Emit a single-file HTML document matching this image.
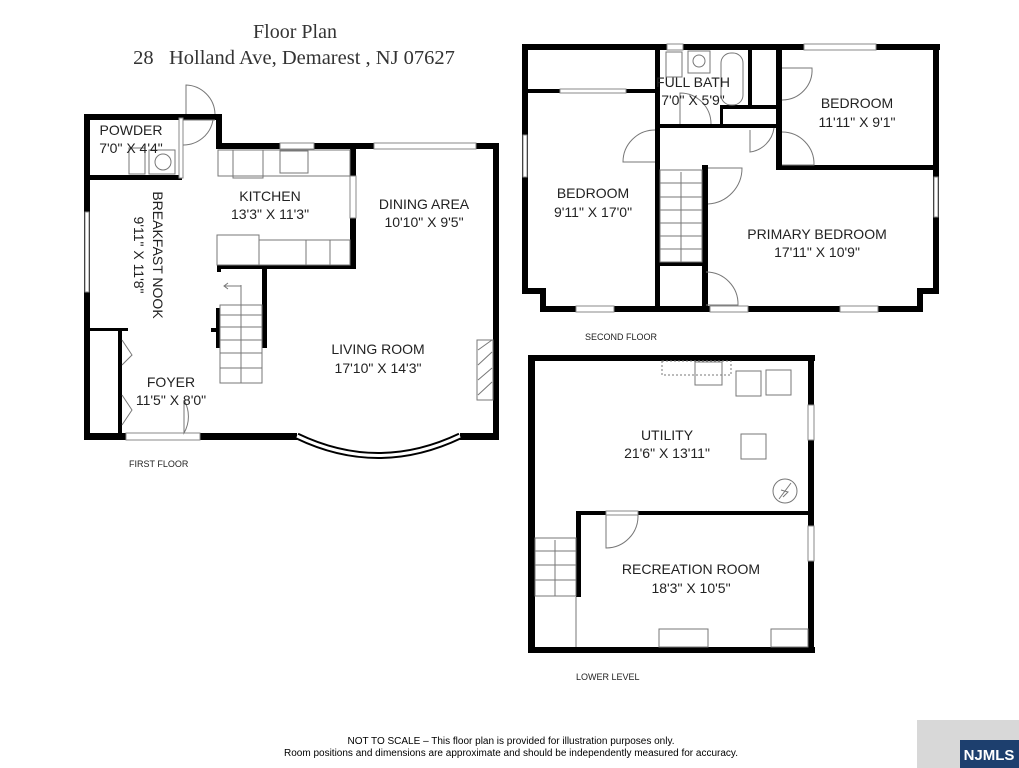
<!DOCTYPE html>
<html><head><meta charset="utf-8"><style>
body{margin:0;background:#fff;width:1019px;height:768px;overflow:hidden}
svg{display:block}
.t{font-family:"Liberation Sans",sans-serif;font-size:14px;fill:#222;text-anchor:middle}
.s{font-family:"Liberation Sans",sans-serif;font-size:9px;fill:#222}
.w{fill:#fff;stroke:#888;stroke-width:1}
.l{fill:none;stroke:#777;stroke-width:1}
</style></head><body>
<svg width="1019" height="768" viewBox="0 0 1019 768">
<text x="295" y="38" style="font-family:'Liberation Serif',serif;font-size:20px;fill:#333" text-anchor="middle">Floor Plan</text>
<text x="294" y="64" style="font-family:'Liberation Serif',serif;font-size:20.5px;fill:#333;white-space:pre" text-anchor="middle" xml:space="preserve">28   Holland Ave, Demarest , NJ 07627</text>

<!-- FIRST FLOOR -->
<g fill="#000">
<rect x="84" y="114" width="6" height="326"/>
<rect x="84" y="114" width="138" height="6"/>
<rect x="216" y="114" width="6" height="35"/>
<rect x="216" y="143" width="283" height="6"/>
<rect x="493" y="143" width="6" height="297"/>
<rect x="84" y="433" width="213" height="7"/>
<rect x="460" y="433" width="39" height="7"/>
<rect x="84" y="175" width="98" height="5"/>
<rect x="350" y="143" width="6" height="33"/>
<rect x="350" y="218" width="6" height="51"/>
<rect x="217" y="265" width="139" height="4"/>
<rect x="217" y="268" width="4" height="4"/>
<rect x="262" y="268" width="5" height="80"/>
<rect x="216" y="308" width="4" height="40"/>
<rect x="84" y="328" width="44" height="3"/>
<rect x="211" y="328" width="8" height="4"/>
<rect x="118" y="330" width="4" height="110"/>
</g>
<rect x="179" y="118" width="4" height="60" fill="#fff" stroke="#888"/>
<rect x="85" y="212" width="4" height="80" class="w"/>
<rect x="280" y="143" width="34" height="6" class="w"/>
<rect x="374" y="143" width="102" height="6" class="w"/>
<rect x="350" y="176" width="6" height="42" class="w"/>
<rect x="126" y="433" width="74" height="7" class="w"/>
<path d="M297 436 Q378 475 460 436" fill="none" stroke="#000" stroke-width="7"/>
<path d="M297 436 Q378 475 460 436" fill="none" stroke="#fff" stroke-width="3"/>
<path d="M186 114 V85 A30 30 0 0 1 215 114" class="l"/>
<path d="M183 120 H215 M183 145 A30 30 0 0 0 213 120" class="l"/>
<rect x="149" y="150" width="26" height="24" class="l"/><circle cx="163" cy="162" r="8" class="l"/>
<rect x="129" y="148" width="16" height="26" class="l"/>
<rect x="233" y="150" width="30" height="28" class="l"/>
<rect x="280" y="151" width="28" height="22" class="l"/>
<rect x="218" y="150" width="132" height="26" class="l"/>
<rect x="217" y="235" width="42" height="30" class="l"/>
<rect x="259" y="240" width="91" height="25" class="l"/>
<line x1="306" y1="240" x2="306" y2="265" class="l"/><line x1="330" y1="240" x2="330" y2="265" class="l"/>
<g class="l">
<rect x="220" y="305" width="42" height="78"/>
<line x1="220" y1="315" x2="262" y2="315"/><line x1="220" y1="327" x2="262" y2="327"/><line x1="220" y1="340" x2="262" y2="340"/><line x1="220" y1="353" x2="262" y2="353"/><line x1="220" y1="368" x2="262" y2="368"/>
<line x1="241" y1="285" x2="241" y2="383"/><path d="M241 286 H224 M228 283 L224 286 L228 289"/>
</g>
<rect x="477" y="340" width="16" height="60" class="l"/>
<path d="M478 350 L492 340 M478 365 L492 352 M478 380 L492 368 M478 395 L492 382" class="l"/>
<path d="M122 340 L132 355 L122 365 M122 395 L132 410 L122 425" class="l"/>
<path d="M184 400 A33 33 0 0 1 184 433 V400" class="l"/>
<text class="t" x="131" y="135">POWDER</text>
<text class="t" x="131" y="153">7'0" X 4'4"</text>
<text class="t" x="270" y="201">KITCHEN</text>
<text class="t" x="270" y="219">13'3" X 11'3"</text>
<text class="t" x="424" y="209">DINING AREA</text>
<text class="t" x="424" y="227">10'10" X 9'5"</text>
<text class="t" x="378" y="354">LIVING ROOM</text>
<text class="t" x="378" y="373">17'10" X 14'3"</text>
<text class="t" x="171" y="387">FOYER</text>
<text class="t" x="171" y="405">11'5" X 8'0"</text>
<text class="t" transform="translate(153,255) rotate(90)">BREAKFAST NOOK</text>
<text class="t" transform="translate(134,255) rotate(90)">9'11" X 11'8"</text>
<text class="s" x="129" y="467">FIRST FLOOR</text>

<!-- SECOND FLOOR -->
<g fill="#000">
<rect x="522" y="44" width="418" height="6"/>
<rect x="522" y="44" width="6" height="250"/>
<rect x="522" y="288" width="24" height="6"/>
<rect x="540" y="288" width="6" height="24"/>
<rect x="540" y="306" width="383" height="6"/>
<rect x="933" y="44" width="6" height="250"/>
<rect x="917" y="288" width="22" height="6"/>
<rect x="917" y="288" width="6" height="24"/>
<rect x="528" y="89" width="127" height="4"/>
<rect x="655" y="44" width="5" height="268"/>
<rect x="655" y="124" width="127" height="4"/>
<rect x="748" y="44" width="4" height="63"/>
<rect x="720" y="105" width="62" height="4"/>
<rect x="720" y="105" width="3" height="23"/>
<rect x="776" y="44" width="6" height="124"/>
<rect x="776" y="165" width="163" height="5"/>
<rect x="702" y="165" width="6" height="147"/>
<rect x="655" y="262" width="50" height="4"/>
</g>
<rect x="560" y="89" width="66" height="4" class="w"/>
<rect x="523" y="135" width="4" height="42" class="w"/>
<rect x="934" y="177" width="4" height="40" class="w"/>
<rect x="667" y="44" width="16" height="6" class="w"/>
<rect x="804" y="44" width="72" height="6" class="w"/>
<rect x="576" y="306" width="38" height="6" class="w"/>
<rect x="710" y="306" width="38" height="6" class="w"/>
<rect x="840" y="306" width="38" height="6" class="w"/>
<g class="l">
<rect x="666" y="52" width="16" height="25"/><rect x="688" y="51" width="22" height="22"/><circle cx="699" cy="61" r="6"/>
<rect x="721" y="53" width="22" height="52" rx="10"/>
<path d="M680 124 V93 A31 31 0 0 1 711 124"/>
<path d="M655 130 A32 32 0 0 0 623 162 H655"/>
<path d="M750 130 V152 A28 28 0 0 0 774 128"/>
<path d="M782 68 H812 A30 30 0 0 1 782 100"/>
<path d="M782 132 A32 32 0 0 1 814 165 H782"/>
<path d="M708 168 H742 A36 36 0 0 1 708 204"/>
<path d="M706 272 A32 32 0 0 1 738 305 H706"/>
<rect x="660" y="170" width="42" height="92"/>
<line x1="660" y1="183" x2="702" y2="183"/><line x1="660" y1="197" x2="702" y2="197"/><line x1="660" y1="210" x2="702" y2="210"/><line x1="660" y1="223" x2="702" y2="223"/><line x1="660" y1="236" x2="702" y2="236"/><line x1="660" y1="249" x2="702" y2="249"/>
<line x1="681" y1="172" x2="681" y2="262"/>
</g>
<text class="t" x="693" y="87">FULL BATH</text>
<text class="t" x="693" y="105">7'0" X 5'9"</text>
<text class="t" x="857" y="108">BEDROOM</text>
<text class="t" x="857" y="127">11'11" X 9'1"</text>
<text class="t" x="593" y="198">BEDROOM</text>
<text class="t" x="593" y="217">9'11" X 17'0"</text>
<text class="t" x="817" y="239">PRIMARY BEDROOM</text>
<text class="t" x="817" y="257">17'11" X 10'9"</text>
<text class="s" x="585" y="340">SECOND FLOOR</text>

<!-- LOWER LEVEL -->
<g fill="#000">
<rect x="528" y="355" width="287" height="6"/>
<rect x="528" y="355" width="7" height="298"/>
<rect x="528" y="647" width="287" height="6"/>
<rect x="808" y="355" width="6" height="298"/>
<rect x="576" y="511" width="238" height="4"/>
<rect x="576" y="511" width="5" height="86"/>
</g>
<rect x="808" y="405" width="6" height="35" class="w"/>
<rect x="808" y="526" width="6" height="35" class="w"/>
<rect x="606" y="511" width="32" height="4" class="w"/>
<g class="l">
<rect x="662" y="361" width="69" height="14" stroke-dasharray="2 2"/>
<rect x="695" y="362" width="27" height="23"/>
<rect x="736" y="371" width="25" height="25"/><rect x="766" y="370" width="25" height="25"/>
<rect x="741" y="434" width="25" height="25"/>
<circle cx="785" cy="491" r="12"/>
<path d="M779 499 L791 483 M781 490 L788 492 L783 497"/>
<path d="M606 515 V548 A32 32 0 0 0 638 515"/>
<rect x="535" y="538" width="41" height="58"/>
<line x1="535" y1="551" x2="576" y2="551"/><line x1="535" y1="565" x2="576" y2="565"/><line x1="535" y1="580" x2="576" y2="580"/>
<line x1="555" y1="540" x2="555" y2="596"/>
<line x1="576" y1="597" x2="576" y2="647"/>
<rect x="659" y="629" width="49" height="18"/><rect x="771" y="629" width="37" height="18"/>
</g>
<text class="t" x="667" y="440">UTILITY</text>
<text class="t" x="667" y="458">21'6" X 13'11"</text>
<text class="t" x="691" y="574">RECREATION ROOM</text>
<text class="t" x="691" y="593">18'3" X 10'5"</text>
<text class="s" x="576" y="680">LOWER LEVEL</text>

<text x="511" y="744" style="font-family:'Liberation Sans',sans-serif;font-size:10px;fill:#000" text-anchor="middle">NOT TO SCALE – This floor plan is provided for illustration purposes only.</text>
<text x="511" y="756" style="font-family:'Liberation Sans',sans-serif;font-size:10px;fill:#000" text-anchor="middle">Room positions and dimensions are approximate and should be independently measured for accuracy.</text>
<rect x="917" y="720" width="102" height="48" fill="#d8d8d8"/>
<rect x="960" y="740" width="59" height="28" fill="#1d3f6e"/>
<text x="989" y="760" style="font-family:'Liberation Sans',sans-serif;font-size:15px;font-weight:bold;fill:#fff" text-anchor="middle">NJMLS</text>
</svg>
</body></html>
